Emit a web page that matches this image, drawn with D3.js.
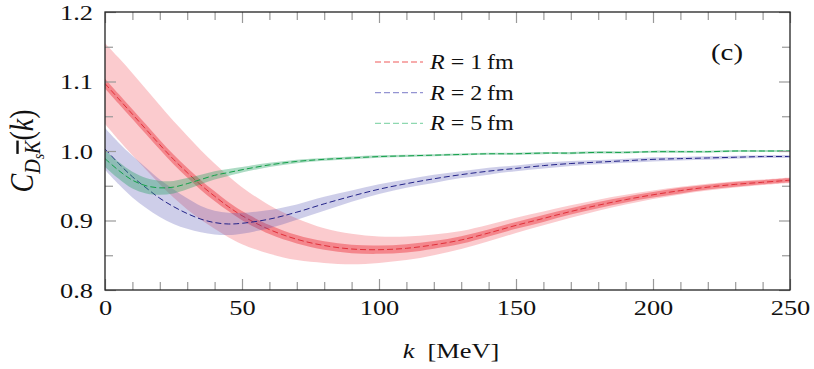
<!DOCTYPE html>
<html>
<head>
<meta charset="utf-8">
<script src="https://cdn.jsdelivr.net/npm/d3@7"></script>
<style>
  html, body { margin: 0; padding: 0; background: #fff; }
  svg { display: block; }
  svg text { font-family: "Liberation Serif", "Times New Roman", Tinos, Times, "Nimbus Roman", serif; }
</style>
</head>
<body>
<div id="chart"></div>
<script>
// momentum grid [MeV]
var kValues = [0, 5, 10, 15, 20, 25, 30, 35, 40, 45, 50, 60, 70, 80, 90, 100, 110, 120, 130, 140,
  150, 160, 170, 180, 190, 200, 210, 220, 230, 240, 250];

// R = 1 fm : central value, outer and inner half widths
var r1Center = [1.097, 1.075, 1.053, 1.031, 1.009, 0.988, 0.969, 0.951, 0.935, 0.920, 0.907, 0.887, 0.873,
  0.864, 0.859, 0.858, 0.860, 0.865, 0.872, 0.882, 0.893, 0.903, 0.913, 0.922, 0.930, 0.937, 0.943, 0.948,
  0.952, 0.955, 0.958];
var r1Outer = [0.058, 0.059, 0.059, 0.058, 0.057, 0.055, 0.053, 0.050, 0.047, 0.044, 0.041, 0.035, 0.030,
  0.025, 0.022, 0.019, 0.017, 0.015, 0.013, 0.012, 0.011, 0.010, 0.009, 0.008, 0.007, 0.006, 0.0055, 0.005,
  0.0045, 0.004, 0.004];
var r1Inner = [0.007, 0.007, 0.007, 0.007, 0.007, 0.007, 0.007, 0.007, 0.007, 0.0065, 0.0065, 0.0065, 0.006,
  0.006, 0.006, 0.006, 0.006, 0.0055, 0.0055, 0.005, 0.005, 0.005, 0.0045, 0.0045, 0.004, 0.004, 0.004, 0.0035,
  0.0035, 0.003, 0.003];

// R = 2 fm
var r2Center = [1.003, 0.982, 0.963, 0.947, 0.932, 0.920, 0.910, 0.902, 0.897, 0.895, 0.896, 0.902, 0.912,
  0.924, 0.935, 0.945, 0.953, 0.960, 0.966, 0.971, 0.975, 0.979, 0.982, 0.984, 0.986, 0.988, 0.989, 0.990,
  0.991, 0.992, 0.992];
var r2Band = [0.030, 0.030, 0.030, 0.029, 0.027, 0.025, 0.022, 0.019, 0.017, 0.016, 0.015, 0.013, 0.011,
  0.010, 0.008, 0.007, 0.006, 0.006, 0.005, 0.005, 0.004, 0.004, 0.0035, 0.003, 0.003, 0.003, 0.0025, 0.0025,
  0.002, 0.002, 0.002];

// R = 5 fm
var r5Center = [0.989, 0.972, 0.958, 0.950, 0.947, 0.948, 0.953, 0.959, 0.965, 0.969, 0.973, 0.980, 0.985,
  0.988, 0.990, 0.992, 0.993, 0.994, 0.995, 0.996, 0.996, 0.997, 0.997, 0.998, 0.998, 0.999, 0.999, 0.999,
  1.000, 1.000, 1.000];
var r5Band = [0.012, 0.012, 0.012, 0.011, 0.010, 0.009, 0.008, 0.007, 0.006, 0.005, 0.004, 0.003, 0.0025,
  0.002, 0.002, 0.0018, 0.0016, 0.0015, 0.0015, 0.0015, 0.0015, 0.0015, 0.0015, 0.0015, 0.0015, 0.0015,
  0.0015, 0.0015, 0.0015, 0.0015, 0.0015];

var legendLabels = ['1', '2', '5'];
var xTicks = [0, 50, 100, 150, 200, 250];
var yTicks = [0.8, 0.9, 1.0, 1.1, 1.2];

var width = 814, height = 369;

var svg = d3.select('#chart').append('svg')
  .attr('width', width)
  .attr('height', height);

// the reference glyphs are wide: "1.2" at 22px spans about 33px
var probe = svg.append('text').attr('font-size', 22).text('1.2');
var stretch = Math.max(0.9, Math.min(1.3, 33 / probe.node().getComputedTextLength()));
probe.remove();

var x = d3.scaleLinear().domain([0, 250]).range([105, 790]);
var y = d3.scaleLinear().domain([0.8, 1.2]).range([290, 12]);

svg.append('defs').append('clipPath')
    .attr('id', 'plot-clip')
  .append('rect')
    .attr('x', x(0)).attr('y', y(1.2))
    .attr('width', x(250) - x(0)).attr('height', y(0.8) - y(1.2));

var plot = svg.append('g').attr('clip-path', 'url(#plot-clip)');

function band(center, half) {
  return d3.area()
    .x(function (d, i) { return x(kValues[i]); })
    .y0(function (d, i) { return y(center[i] - half[i]); })
    .y1(function (d, i) { return y(center[i] + half[i]); })
    .curve(d3.curveCatmullRom)(kValues);
}

function curve(center) {
  return d3.line()
    .x(function (d, i) { return x(kValues[i]); })
    .y(function (d, i) { return y(center[i]); })
    .curve(d3.curveCatmullRom)(kValues);
}

// R = 1 fm
plot.append('path').attr('d', band(r1Center, r1Outer)).attr('fill', 'rgb(240,70,80)').attr('fill-opacity', 0.28);
plot.append('path').attr('d', band(r1Center, r1Inner)).attr('fill', 'rgb(235,50,60)').attr('fill-opacity', 0.45);
plot.append('path').attr('d', curve(r1Center))
  .attr('fill', 'none').attr('stroke', '#e0303a').attr('stroke-width', 1).attr('stroke-dasharray', '6,3');

// R = 2 fm
plot.append('path').attr('d', band(r2Center, r2Band)).attr('fill', 'rgb(80,80,175)').attr('fill-opacity', 0.28);
plot.append('path').attr('d', curve(r2Center))
  .attr('fill', 'none').attr('stroke', '#222288').attr('stroke-width', 1).attr('stroke-dasharray', '6,3');

// R = 5 fm
plot.append('path').attr('d', band(r5Center, r5Band)).attr('fill', 'rgb(40,160,100)').attr('fill-opacity', 0.38);
plot.append('path').attr('d', curve(r5Center))
  .attr('fill', 'none').attr('stroke', '#12a048').attr('stroke-width', 1).attr('stroke-dasharray', '6,3');

// Ticks (pointing inwards on all four sides)
var xMinor = d3.range(0, 251, 10).filter(function (v) { return v % 50 !== 0; });
var yMinor = [0.85, 0.95, 1.05, 1.15];

function tickStyle(g) {
  g.attr('font-family', null);
  g.select('.domain').remove();
  g.selectAll('line').attr('stroke', '#999').attr('stroke-width', 1.2);
  g.selectAll('text')
    .attr('font-size', 22)
    .attr('fill', '#111');
}

svg.append('g').attr('transform', 'translate(0,' + y(0.8) + ')')
  .call(d3.axisBottom(x).tickValues(xTicks).tickSize(-11).tickPadding(9).tickFormat(d3.format('d')))
  .call(tickStyle)
  .selectAll('text').attr('transform', 'scale(' + stretch + ',1)');
svg.append('g').attr('transform', 'translate(0,' + y(0.8) + ')')
  .call(d3.axisBottom(x).tickValues(xMinor).tickSize(-8).tickFormat(''))
  .call(tickStyle);
svg.append('g').attr('transform', 'translate(0,' + y(1.2) + ')')
  .call(d3.axisTop(x).tickValues(xTicks).tickSize(-11).tickFormat(''))
  .call(tickStyle);
svg.append('g').attr('transform', 'translate(0,' + y(1.2) + ')')
  .call(d3.axisTop(x).tickValues(xMinor).tickSize(-8).tickFormat(''))
  .call(tickStyle);

svg.append('g').attr('transform', 'translate(' + x(0) + ',0)')
  .call(d3.axisLeft(y).tickValues(yTicks).tickSize(-11).tickPadding(12 / stretch).tickFormat(d3.format('.1f')))
  .call(tickStyle)
  .selectAll('text').attr('transform', 'scale(' + stretch + ',1)');
svg.append('g').attr('transform', 'translate(' + x(0) + ',0)')
  .call(d3.axisLeft(y).tickValues(yMinor).tickSize(-8).tickFormat(''))
  .call(tickStyle);
svg.append('g').attr('transform', 'translate(' + x(250) + ',0)')
  .call(d3.axisRight(y).tickValues(yTicks).tickSize(-11).tickFormat(''))
  .call(tickStyle);
svg.append('g').attr('transform', 'translate(' + x(250) + ',0)')
  .call(d3.axisRight(y).tickValues(yMinor).tickSize(-8).tickFormat(''))
  .call(tickStyle);

// Frame
svg.append('rect')
  .attr('x', x(0)).attr('y', y(1.2))
  .attr('width', x(250) - x(0)).attr('height', y(0.8) - y(1.2))
  .attr('fill', 'none').attr('stroke', '#222').attr('stroke-width', 1.3);

// Legend
var legendColors = ['#f05a5a', '#9494d2', '#8ed8b0'];
var legend = svg.append('g');
legendLabels.forEach(function (r, i) {
  var ly = 62 + i * 30.7;
  legend.append('line')
    .attr('x1', 375).attr('x2', 423).attr('y1', ly).attr('y2', ly)
    .attr('stroke', legendColors[i]).attr('stroke-width', 1.2).attr('stroke-dasharray', '6,3');
  var t = legend.append('text')
    .attr('transform', 'translate(430,' + (ly + 7) + ') scale(' + stretch + ',1)')
    .attr('font-size', 20).attr('fill', '#111');
  t.append('tspan').attr('font-style', 'italic').text('R');
  t.append('tspan').text(' = ' + r + '\u2009fm');
});

// Panel tag
svg.append('text')
  .attr('transform', 'translate(727,60) scale(' + stretch + ',1)')
  .attr('text-anchor', 'middle').attr('font-size', 24).attr('fill', '#111')
  .text('(c)');

// x axis title
var xt = svg.append('text')
  .attr('transform', 'translate(451,358) scale(' + stretch + ',1)')
  .attr('text-anchor', 'middle').attr('font-size', 22).attr('fill', '#111');
xt.append('tspan').attr('font-style', 'italic').text('k');
xt.append('tspan').text('\u2002[MeV]');

// y axis title
var yt = svg.append('text')
  .attr('transform', 'translate(33,151) scale(' + stretch + ',1) rotate(-90)')
  .attr('text-anchor', 'middle').attr('font-size', 28).attr('fill', '#111');
yt.append('tspan').attr('font-style', 'italic').text('C');
yt.append('tspan').attr('font-style', 'italic').attr('font-size', 20).attr('dy', 6).text('D');
yt.append('tspan').attr('font-style', 'italic').attr('font-size', 14).attr('dy', 3).text('s');
yt.append('tspan').attr('font-style', 'italic').attr('font-size', 20).attr('dy', -3)
  .attr('text-decoration', 'overline').text('K');
yt.append('tspan').attr('dy', -6).text('(');
yt.append('tspan').attr('font-style', 'italic').text('k');
yt.append('tspan').text(')');
</script>
</body>
</html>
